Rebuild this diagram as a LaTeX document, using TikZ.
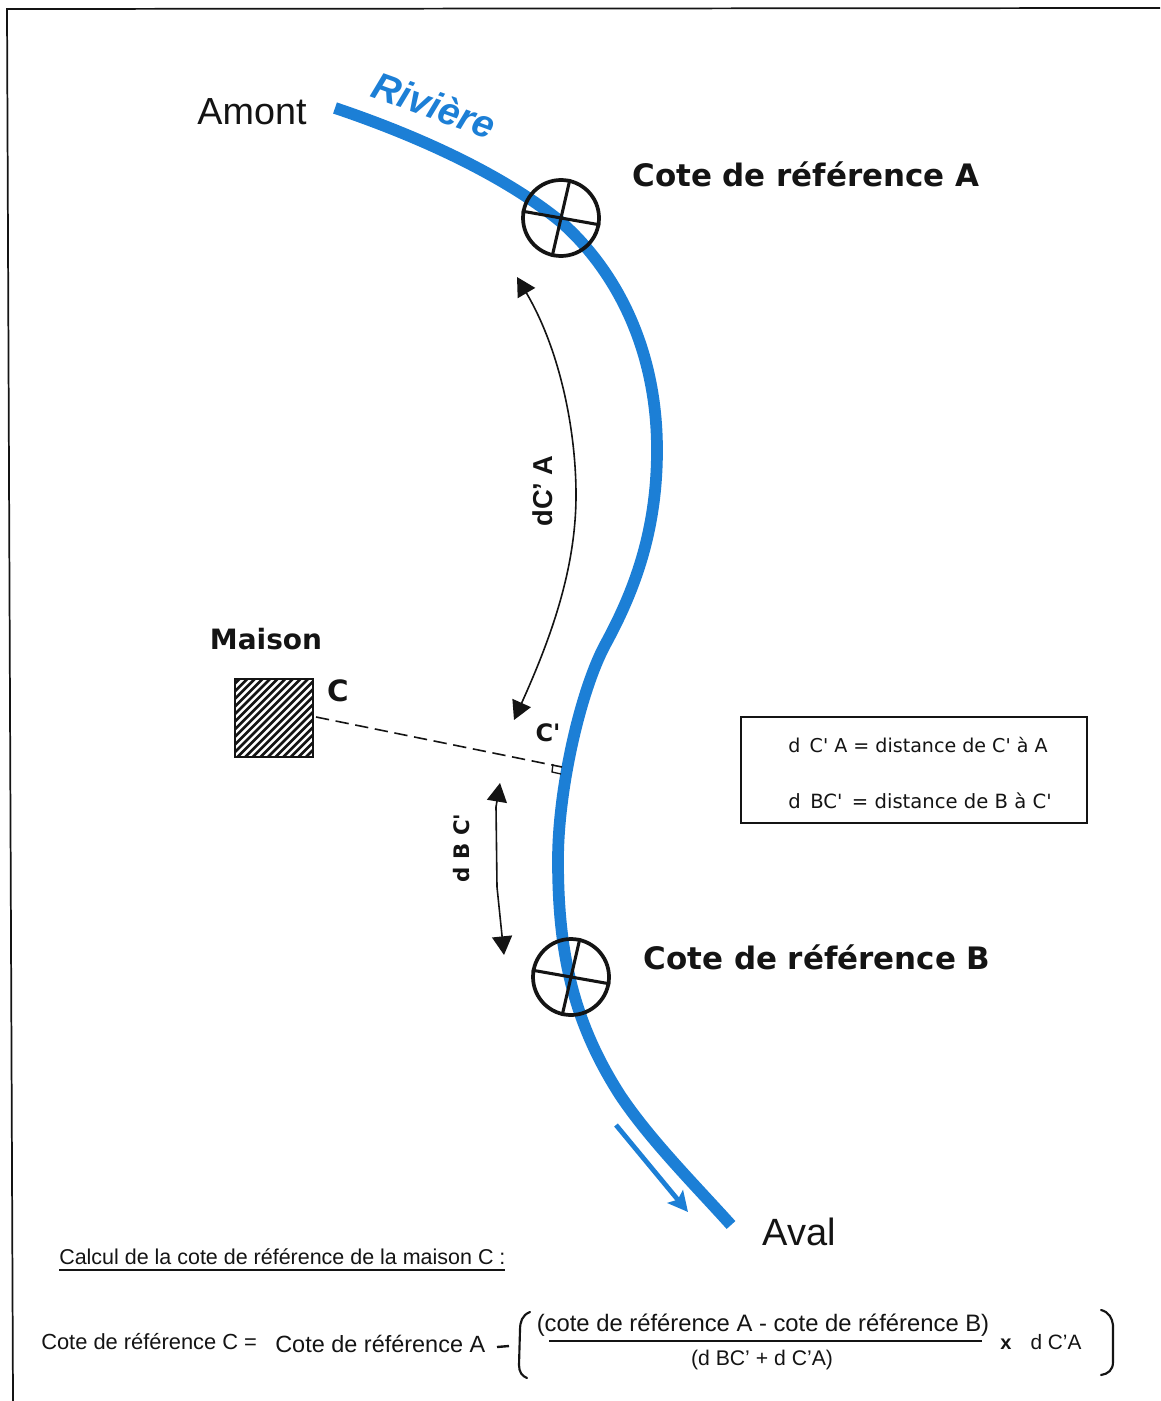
\documentclass[tikz,border=0pt]{standalone}
\usepackage{fontspec}
\setmainfont{Liberation Sans}
\newfontfamily\widefont{DejaVu Sans}
\usetikzlibrary{arrows.meta,calc}
\definecolor{river}{HTML}{1C7FD6}
\definecolor{ink}{HTML}{141414}
\tikzset{
  x=0.75pt,y=-0.75pt,
  label/.style={inner sep=0pt,text=ink,anchor=center},
  gauge/.style={circle,draw=ink,line width=2.8pt,minimum size=57pt,inner sep=0pt},
  spoke/.style={draw=ink,line width=2.3pt},
  dim/.style={draw=ink,line width=1.2pt,{Triangle[length=14pt,width=15pt]}-{Triangle[length=14pt,width=15pt]}},
  bracket/.style={draw=ink,line width=1.6pt,line cap=round},
  rule/.style={draw=ink,line width=1.2pt}
}
\begin{document}
\begin{tikzpicture}
\useasboundingbox (0,0) rectangle (1160,1401);
\fill[white] (0,0) rectangle (1160,1401);
% page frame
\coordinate (f1) at (7,9); \coordinate (f2) at (1160,8); \coordinate (f3) at (13,1401);
\draw[draw=ink,line width=1.3pt] (f2) -- (f1) -- (f3);
% river
\draw[river,line width=8.8pt,line cap=butt,line join=round]
 (335,108) .. controls (430,140) and (510,180) .. (561,222)
 .. controls (600,256) and (657,330) .. (657,450)
 .. controls (657,530) and (635,590) .. (605,645)
 .. controls (580,692) and (558,790) .. (558,860)
 .. controls (558,950) and (572,1020) .. (620,1095)
 .. controls (650,1140) and (695,1185) .. (731,1225);
% flow arrow
\coordinate (fa) at (616,1125); \coordinate (fb) at (688,1212);
\draw[river,line width=3.6pt,-{Stealth[length=15pt,width=15pt,inset=3pt]}] (fa) -- (fb);
% gauges
\node[gauge] (ga) at (561,218) {};
\draw[spoke] (ga.77) -- (ga.257); \draw[spoke] (ga.170) -- (ga.350);
\node[gauge] (gb) at (571,977) {};
\draw[spoke] (gb.77) -- (gb.257); \draw[spoke] (gb.170) -- (gb.350);
% labels top
\node[label,font=\fontsize{28.3pt}{30pt}\selectfont] (amont) at (252,112) {Amont};
\node[label,text=river,rotate=-20,font=\fontsize{28.8pt}{30pt}\selectfont\bfseries\itshape] (riv) at (434,105) {Rivière};
\node[label,font=\widefont\fontsize{23.2pt}{28pt}\selectfont\bfseries] (refa) at (806,174) {Cote de référence A};
\node[label,font=\widefont\fontsize{23.2pt}{28pt}\selectfont\bfseries] (refb) at (817,957) {Cote de référence B};
\node[label,font=\fontsize{28.5pt}{30pt}\selectfont] (aval) at (799,1232) {Aval};
% dC'A arrow
\coordinate (a1) at (517,277); \coordinate (a2) at (514,720);
\draw[dim] (a1) .. controls (560,350) and (576,430) .. (576,495) .. controls (576,570) and (550,640) .. (a2);
\node[label,rotate=90,font=\fontsize{20.5pt}{22pt}\selectfont\bfseries] (dca) at (543,491) {dC' A};
% house
\begin{scope}
\clip (234,679) rectangle (313,757);
\foreach \k in {0,7.6,...,170} {\draw[ink,line width=2pt] (234+\k-90,767) -- (234+\k,677);}
\end{scope}
\node[draw=ink,line width=1.5pt,minimum size=58.5pt,inner sep=0pt] (house) at (273.5,718) {};
\node[label,font=\widefont\fontsize{21pt}{22pt}\selectfont\bfseries] (maison) at (266,639) {Maison};
\node[label,font=\widefont\fontsize{22pt}{24pt}\selectfont\bfseries] (c) at (338,691) {C};
\node[label,font=\widefont\fontsize{18pt}{22pt}\selectfont\bfseries] (cp) at (548,733) {C'};
% perpendicular
\coordinate (cq) at (562,767); \coordinate (cs) at (316,717);
\draw[draw=ink,line width=1.2pt,dash pattern=on 10pt off 5pt] (cs) -- (cq);
\coordinate (t1) at (553,764); \coordinate (t2) at (552,772); \coordinate (t3) at (561,774);
\draw[draw=ink,line width=1pt] (t1) -- (t2) -- (t3);
% dBC' arrow
\coordinate (b1) at (500,783); \coordinate (b2) at (504,955);
\draw[dim] (b1) -- (496,807) -- (497,887) -- (b2);
\node[label,rotate=90,font=\widefont\fontsize{16pt}{18pt}\selectfont\bfseries] (dbc) at (462,848) {d B C'};
% legend
\node[draw=ink,line width=1.3pt,minimum width=259.5pt,minimum height=79.5pt,inner sep=0pt] (legend) at (914,770) {};
\node[label,font=\widefont\fontsize{14.3pt}{16pt}\selectfont] (l1) at (918,745) {d\, C' A = distance de C' à A};
\node[label,font=\widefont\fontsize{14.7pt}{16pt}\selectfont] (l2) at (920,801) {d\, BC' \,= distance de B à C'};
% formula
\node[label,anchor=west,font=\fontsize{16.1pt}{18pt}\selectfont] (calc) at (59,1257) {Calcul de la cote de référence de la maison C :};
\coordinate (u1) at (59,1270); \coordinate (u2) at (505,1270);
\draw[rule] (u1) -- (u2);
\node[label,anchor=west,font=\fontsize{16.4pt}{18pt}\selectfont] (f0) at (41,1342) {Cote de référence C =};
\node[label,anchor=west,font=\fontsize{17.6pt}{20pt}\selectfont] (f1t) at (275,1344) {Cote de référence A};
\coordinate (m1) at (497,1347); \coordinate (m2) at (509,1346);
\draw[draw=ink,line width=1.8pt] (m1) -- (m2);
\coordinate (l1a) at (530,1312); \coordinate (l1b) at (520,1330); \coordinate (l1c) at (519,1365); \coordinate (l1d) at (527,1378);
\draw[bracket] (l1a) .. controls (522,1315) and (520,1322) .. (l1b) -- (l1c) .. controls (519,1372) and (522,1376) .. (l1d);
\node[label,font=\fontsize{17.85pt}{20pt}\selectfont] (num) at (763,1325) {(cote de référence A - cote de référence B)};
\coordinate (fr1) at (549,1341); \coordinate (fr2) at (982,1341);
\draw[draw=ink,line width=1.6pt] (fr1) -- (fr2);
\node[label,font=\fontsize{15.9pt}{18pt}\selectfont] (den) at (762,1360) {(d BC' + d C'A)};
\node[label,font=\fontsize{15pt}{18pt}\selectfont\bfseries] (times) at (1006,1344) {x};
\node[label,font=\fontsize{15.6pt}{18pt}\selectfont] (dcaf) at (1056,1342) {d C'A};
\coordinate (r1a) at (1101,1310); \coordinate (r1b) at (1113,1325); \coordinate (r1c) at (1113,1362); \coordinate (r1d) at (1101,1375);
\draw[bracket] (r1a) .. controls (1109,1312) and (1112,1318) .. (r1b) -- (r1c) .. controls (1113,1370) and (1108,1374) .. (r1d);
\end{tikzpicture}
\end{document}
